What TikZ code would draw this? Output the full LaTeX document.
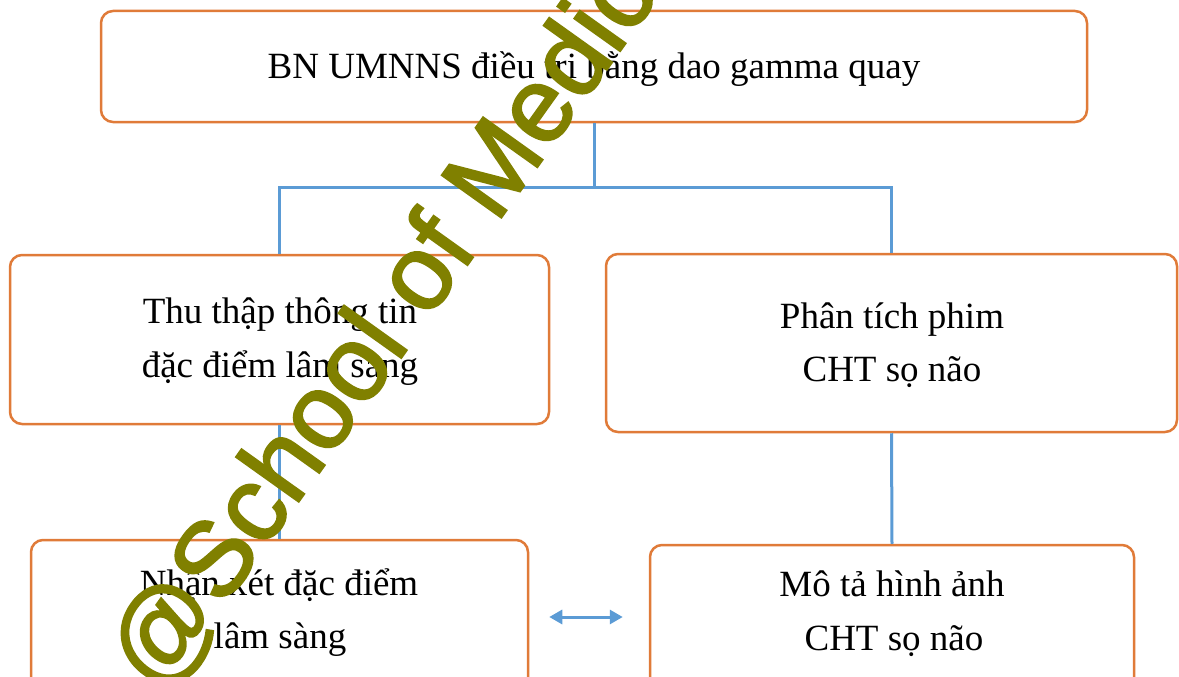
\documentclass[tikz,border=0pt]{standalone}
\usepackage{fontspec}
\setmainfont{Liberation Serif}
\newfontfamily\wmfont{Liberation Sans}[FakeBold=2]
\usetikzlibrary{arrows.meta}
\definecolor{boxorange}{HTML}{E07B39}
\definecolor{linkblue}{HTML}{5B9BD5}
\definecolor{wmolive}{HTML}{808000}
\tikzset{
  stagebox/.style={draw=boxorange, line width=2.5pt, rounded corners=12pt,
    fill=white, inner sep=0pt},
  linetext/.style={anchor=base, inner sep=0pt, font=\fontsize{37}{54}\selectfont},
  conn/.style={draw=linkblue, line width=3pt},
  twoway/.style={conn, {Triangle[length=13pt,width=14pt]}-{Triangle[length=13pt,width=14pt]}},
}
\begin{document}
\begin{tikzpicture}[x=1pt, y=-1pt]
\useasboundingbox (0,0) rectangle (1179,677);
\clip (0,0) rectangle (1179,677);

\coordinate (j) at (594,187);

% boxes
\node[stagebox, minimum width=986pt, minimum height=111pt] (top) at (594,66.5) {};
\node[stagebox, minimum width=539pt, minimum height=169pt] (l1) at (279.5,339.5) {};
\node[stagebox, minimum width=571pt, minimum height=178pt] (r1) at (891.5,343) {};
\node[stagebox, minimum width=497pt, minimum height=160pt] (l2) at (279.5,620) {};
\node[stagebox, minimum width=484pt, minimum height=150pt] (r2) at (892,620) {};

% connectors
\draw[conn] (top.south) -- (j);
\draw[conn] (l1.north) |- (j) -| (r1.north);
\draw[conn] (l1.south) -- (l2.north);
\draw[conn] (r1.south) -- (r2.north);
\draw[twoway] ([xshift=20pt,yshift=3pt]l2.east) -- ([xshift=-26pt,yshift=3pt]r2.west);

% box texts
\node[linetext] (ttop) at (594,78) {BN UMNNS điều trị bằng dao gamma quay};
\node[linetext] (tl1a) at (280,323) {Thu thập thông tin};
\node[linetext] (tl1b) at (280,377) {đặc điểm lâm sàng};
\node[linetext] (tr1a) at (892,328) {Phân tích phim};
\node[linetext] (tr1b) at (892,381) {CHT sọ não};
\node[linetext] (tl2a) at (279,595) {Nhận xét đặc điểm};
\node[linetext] (tl2b) at (280,648) {lâm sàng};
\node[linetext] (tr2a) at (892,596) {Mô tả hình ảnh};
\node[linetext] (tr2b) at (894,650) {CHT sọ não};

% watermark
\node[anchor=base west, inner sep=0pt, rotate=54.5, text=wmolive,
  font=\wmfont\fontsize{106}{106}\selectfont] (wm) at (160,696) {@School of Medicine};
\end{tikzpicture}
\end{document}
